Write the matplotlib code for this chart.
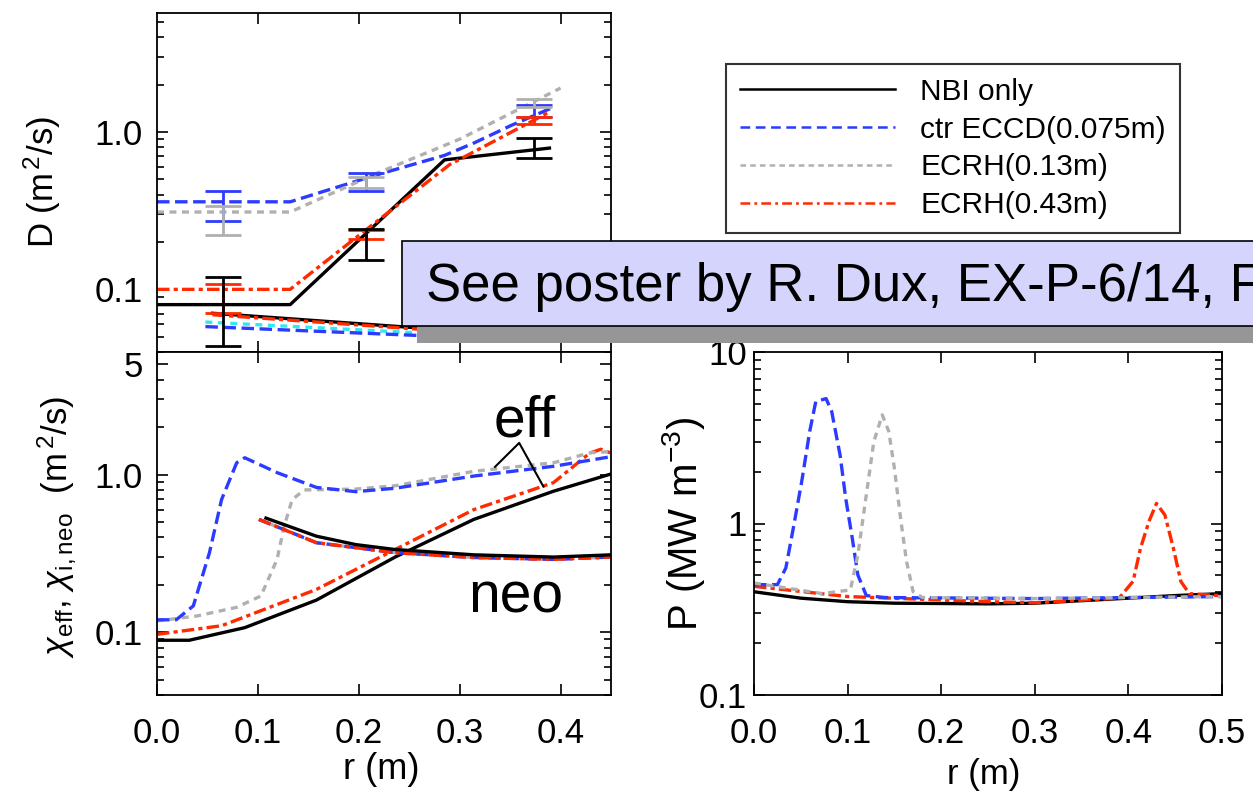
import matplotlib
matplotlib.use("Agg")
import matplotlib.pyplot as plt
from matplotlib.lines import Line2D
from matplotlib.patches import Rectangle

plt.rcParams['font.family'] = ['Liberation Sans', 'DejaVu Sans']
plt.rcParams['mathtext.fontset'] = 'custom'
plt.rcParams['mathtext.rm'] = 'Liberation Sans'
plt.rcParams['mathtext.it'] = 'Liberation Sans:italic'
plt.rcParams['lines.scale_dashes'] = False

# ---- data ----
# top panel: D profiles
r_nbi_D = [0.0, 0.132, 0.285, 0.389]
D_nbi = [0.080, 0.080, 0.665, 0.79]
r_eccd_D = [0.0, 0.132, 0.216, 0.285, 0.314, 0.351, 0.39]
D_eccd = [0.36, 0.36, 0.53, 0.71, 0.85, 1.10, 1.41]
r_ecrh13_D = [0.0, 0.132, 0.219, 0.30, 0.40]
D_ecrh13 = [0.31, 0.31, 0.55, 0.90, 1.90]
r_ecrh43_D = [0.0, 0.132, 0.20, 0.29, 0.39]
D_ecrh43 = [0.10, 0.10, 0.22, 0.62, 1.35]

# lower (neoclassical) D curves in the top panel
r_low = [0.055, 0.257, 0.45]
D_low_nbi = [0.0705, 0.057, 0.052]
D_low_ecrh43 = [0.069, 0.056, 0.051]
r_low2 = [0.048, 0.257, 0.45]
D_low_ecrh13 = [0.062, 0.053, 0.049]
D_low_eccd = [0.058, 0.051, 0.047]

# error bars: positions, lower and upper ends
r_err = [0.065, 0.207, 0.374]
nbi_lo = [0.0436, 0.153, 0.68]
nbi_hi = [0.12, 0.242, 0.92]
eccd_lo = [0.27, 0.42, 1.24]
eccd_hi = [0.42, 0.55, 1.48]
ecrh13_lo = [0.22, 0.44, 1.44]
ecrh13_hi = [0.34, 0.52, 1.62]
ecrh43_lo = [0.0705, 0.21, 1.12]
ecrh43_hi = [0.108, 0.24, 1.24]

# bottom-left: chi_eff
r_chi_nbi = [0.0, 0.032, 0.087, 0.158, 0.236, 0.314, 0.393, 0.45]
chi_nbi = [0.089, 0.089, 0.107, 0.16, 0.30, 0.52, 0.785, 1.01]
r_chi_ecrh43 = [0.0, 0.064, 0.158, 0.236, 0.314, 0.393, 0.429, 0.44, 0.45]
chi_ecrh43 = [0.097, 0.11, 0.187, 0.335, 0.60, 0.89, 1.37, 1.45, 1.37]
r_chi_eccd = [0.0, 0.019, 0.036, 0.052, 0.064, 0.079, 0.087, 0.119, 0.158,
              0.197, 0.236, 0.314, 0.393, 0.45]
chi_eccd = [0.12, 0.12, 0.147, 0.32, 0.695, 1.19, 1.28, 1.03, 0.83,
            0.78, 0.82, 0.98, 1.13, 1.30]
r_chi_ecrh13 = [0.0, 0.04, 0.079, 0.103, 0.119, 0.126, 0.134, 0.146, 0.197,
                0.236, 0.314, 0.393, 0.43, 0.45]
chi_ecrh13 = [0.118, 0.127, 0.144, 0.17, 0.29, 0.47, 0.695, 0.80, 0.81,
              0.85, 1.05, 1.19, 1.38, 1.40]
# bottom-left: chi_i,neo
r_neo = [0.108, 0.158, 0.197, 0.236, 0.314, 0.393, 0.45]
neo_nbi = [0.53, 0.407, 0.36, 0.335, 0.31, 0.30, 0.31]
r_neo2 = [0.101, 0.158, 0.236, 0.314, 0.393, 0.45]
neo_other = [0.52, 0.37, 0.32, 0.298, 0.29, 0.30]

# bottom-right: power density
r_P_nbi = [0.0, 0.05, 0.10, 0.15, 0.25, 0.30, 0.40, 0.45, 0.50]
P_nbi = [0.40, 0.367, 0.35, 0.343, 0.34, 0.343, 0.367, 0.38, 0.39]
r_P_eccd = [0.0, 0.025, 0.034, 0.042, 0.051, 0.0595, 0.066, 0.077, 0.083,
            0.092, 0.098, 0.105, 0.111, 0.12, 0.14, 0.30, 0.50]
P_eccd = [0.44, 0.44, 0.55, 0.94, 1.76, 3.44, 5.14, 5.35, 4.5,
          2.5, 1.4, 0.82, 0.5, 0.38, 0.37, 0.365, 0.375]
r_P_ecrh13 = [0.0, 0.073, 0.103, 0.111, 0.12, 0.128, 0.137, 0.144, 0.15,
              0.157, 0.163, 0.17, 0.18, 0.30, 0.50]
P_ecrh13 = [0.45, 0.39, 0.41, 0.66, 1.47, 3.0, 4.3, 3.44, 2.1,
            1.03, 0.6, 0.40, 0.37, 0.365, 0.375]
r_P_ecrh43 = [0.0, 0.10, 0.25, 0.30, 0.39, 0.405, 0.413, 0.422, 0.43,
              0.439, 0.448, 0.456, 0.465, 0.497]
P_ecrh43 = [0.43, 0.375, 0.35, 0.345, 0.367, 0.46, 0.72, 1.03, 1.31,
            1.12, 0.72, 0.46, 0.39, 0.38]

labels = ['NBI only', 'ctr ECCD(0.075m)', 'ECRH(0.13m)', 'ECRH(0.43m)']

# ---- styles ----
BLACK = 'black'
BLUE = '#2b3bff'
GREY = '#b0b0b0'
RED = '#ff2a00'
CYAN = '#30e8f0'
LW = 2.4
sty_nbi = dict(color=BLACK, lw=LW, linestyle='-')
sty_eccd = dict(color=BLUE, lw=LW, linestyle=(0, (9, 4)))
sty_ecrh13 = dict(color=GREY, lw=LW, linestyle=(0, (5, 4)))
sty_ecrh43 = dict(color=RED, lw=LW, linestyle=(0, (9, 3, 3, 3)))

W, H = 1253, 791
fig = plt.figure(figsize=(W / 100, H / 100), dpi=100)


def fax(x0, y0, x1, y1):
    # axes from pixel box (top-left origin)
    return fig.add_axes([x0 / W, 1 - y1 / H, (x1 - x0) / W, (y1 - y0) / H])


ax1 = fax(157, 13, 611, 352)
ax2 = fax(157, 352, 611, 695)
ax3 = fax(754, 352, 1222, 695)

for ax in (ax1, ax2, ax3):
    ax.set_yscale('log')
    ax.tick_params(which='both', direction='in', top=True, right=True,
                   labelsize=25, width=1.2, color='black')
    ax.tick_params(which='major', length=8)
    ax.tick_params(which='minor', length=5)
    ax.tick_params(axis='y', which='major', pad=10)
    ax.tick_params(axis='x', which='major', pad=16)
    for s in ax.spines.values():
        s.set_linewidth(1.3)

# top panel
ax1.plot(r_nbi_D, D_nbi, **sty_nbi)
ax1.plot(r_eccd_D, D_eccd, **sty_eccd)
ax1.plot(r_ecrh13_D, D_ecrh13, **sty_ecrh13)
ax1.plot(r_ecrh43_D, D_ecrh43, **sty_ecrh43)
ax1.plot(r_low, D_low_nbi, **sty_nbi)
ax1.plot(r_low, D_low_ecrh43, **sty_ecrh43)
ax1.plot(r_low2, D_low_ecrh13, color=CYAN, lw=LW, linestyle=(0, (5, 4)))
ax1.plot(r_low2, D_low_eccd, **sty_eccd)
for lo, hi, c in [(eccd_lo, eccd_hi, BLUE), (ecrh13_lo, ecrh13_hi, GREY),
                  (ecrh43_lo, ecrh43_hi, RED), (nbi_lo, nbi_hi, BLACK)]:
    mid = [(a * b) ** 0.5 for a, b in zip(lo, hi)]
    ax1.errorbar(r_err, mid, yerr=[[m - a for m, a in zip(mid, lo)],
                                   [b - m for m, b in zip(mid, hi)]],
                 fmt='none', ecolor=c, elinewidth=2, capsize=13, capthick=2)
ax1.set_xlim(0, 0.45)
ax1.set_ylim(0.04, 5.7)
ax1.set_xticks([0.1, 0.2, 0.3, 0.4])
ax1.tick_params(axis='x', labelbottom=False)
ax1.set_yticks([0.1, 1.0], ['0.1', '1.0'])
ax1.set_ylabel('D (m$^{\\,2}$/s)', fontsize=25)
ax1.yaxis.set_label_coords(-0.207, 0.5)

# bottom-left panel
ax2.plot(r_chi_nbi, chi_nbi, **sty_nbi)
ax2.plot(r_chi_ecrh43, chi_ecrh43, **sty_ecrh43)
ax2.plot(r_chi_ecrh13, chi_ecrh13, **sty_ecrh13)
ax2.plot(r_chi_eccd, chi_eccd, **sty_eccd)
ax2.plot(r_neo2, neo_other, **sty_ecrh13)
ax2.plot(r_neo2, neo_other, **sty_eccd)
ax2.plot(r_neo2, neo_other, **sty_ecrh43)
ax2.plot(r_neo, neo_nbi, **sty_nbi)
ax2.plot([0.335, 0.359, 0.383], [1.12, 1.59, 0.84], color=BLACK, lw=1.5)
ax2.text(0.364, 1.74, 'eff', fontsize=41, ha='center', va='baseline')
ax2.text(0.356, 0.134, 'neo', fontsize=41, ha='center', va='baseline')
ax2.set_xlim(0, 0.45)
ax2.set_ylim(0.04, 6.0)
ax2.set_xticks([0.0, 0.1, 0.2, 0.3, 0.4], ['0.0', '0.1', '0.2', '0.3', '0.4'])
ax2.set_yticks([0.1, 1.0, 5.0], ['0.1', '1.0', '5'])
ax2.set_xlabel('r (m)', fontsize=26)
ax2.xaxis.set_label_coords(0.493, -0.165)
ax2.set_ylabel(r'$\chi_{\rm eff}$, $\chi_{\rm i,neo}$  (m$^{\,2}$/s)', fontsize=25)
ax2.yaxis.set_label_coords(-0.175, 0.49)

# bottom-right panel
ax3.plot(r_P_nbi, P_nbi, **sty_nbi)
ax3.plot(r_P_ecrh43, P_ecrh43, **sty_ecrh43)
ax3.plot(r_P_eccd, P_eccd, **sty_eccd)
ax3.plot(r_P_ecrh13, P_ecrh13, **sty_ecrh13)
ax3.set_xlim(0, 0.5)
ax3.set_ylim(0.1, 10)
ax3.set_xticks([0.0, 0.1, 0.2, 0.3, 0.4, 0.5],
               ['0.0', '0.1', '0.2', '0.3', '0.4', '0.5'])
ax3.set_yticks([0.1, 1, 10], ['0.1', '1', '10'])
ax3.tick_params(axis='y', which='major', pad=5)
ax3.set_xlabel('r (m)', fontsize=25)
ax3.xaxis.set_label_coords(0.49, -0.185)
ax3.set_ylabel('P (MW m$^{-3}$)', fontsize=29)
ax3.yaxis.set_label_coords(-0.10, 0.5)

# legend
handles = [Line2D([], [], color=BLACK, lw=1.8, linestyle='-'),
           Line2D([], [], color=BLUE, lw=1.8, linestyle=(0, (7, 4))),
           Line2D([], [], color=GREY, lw=1.8, linestyle=(0, (4, 3))),
           Line2D([], [], color=RED, lw=1.8, linestyle=(0, (7, 3, 2, 3)))]
leg = fig.legend(handles, labels, loc='upper left',
                 bbox_to_anchor=(726 / W, 1 - 64 / H), fontsize=21.5,
                 frameon=True, fancybox=False, edgecolor='black',
                 handlelength=5.2, handletextpad=0.85, borderpad=0.46,
                 labelspacing=0.33, borderaxespad=0)
leg.get_frame().set_linewidth(1.5)

# banner
fig.patches.append(Rectangle((417 / W, 1 - 343 / H), (W + 20 - 417) / W, 17 / H,
                             transform=fig.transFigure, facecolor='#969696',
                             edgecolor='none', zorder=10))
fig.patches.append(Rectangle((402 / W, 1 - 326 / H), (W + 20 - 402) / W, 85 / H,
                             transform=fig.transFigure, facecolor='#d4d4fc',
                             edgecolor='black', lw=1.2, zorder=11))
fig.text(426 / W, 1 - 287 / H, 'See poster by R. Dux, EX-P-6/14, Fr',
         fontsize=38, ha='left', va='center', zorder=12)

fig.savefig('out.png', dpi=100)
